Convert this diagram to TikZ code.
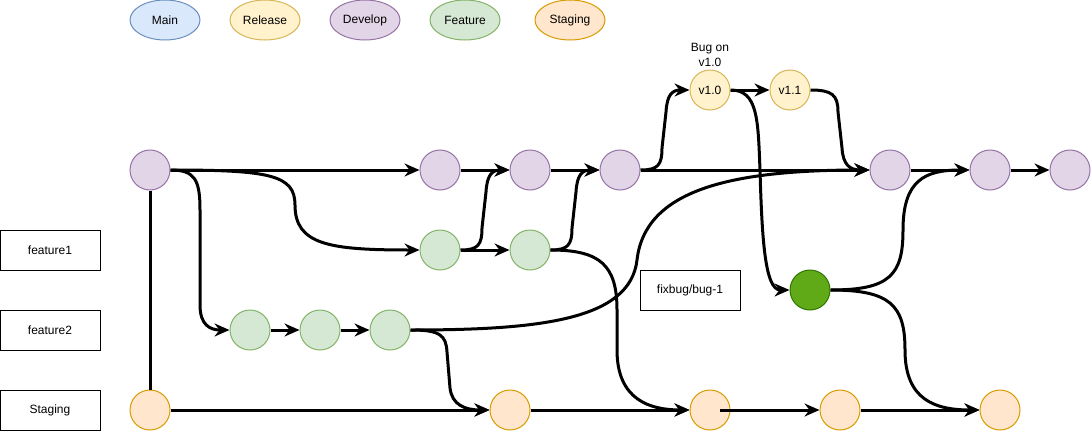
\documentclass[tikz,border=0pt]{standalone}
\usepackage{fontspec}
\setmainfont{Liberation Sans}
\usetikzlibrary{shapes.geometric,arrows.meta}
\definecolor{mainF}{HTML}{DAE8FC}\definecolor{mainS}{HTML}{6C8EBF}
\definecolor{relF}{HTML}{FFF2CC}\definecolor{relS}{HTML}{D6B656}
\definecolor{devF}{HTML}{E1D5E7}\definecolor{devS}{HTML}{9673A6}
\definecolor{featF}{HTML}{D5E8D4}\definecolor{featS}{HTML}{82B366}
\definecolor{stagF}{HTML}{FFE6CC}\definecolor{stagS}{HTML}{D79B00}
\definecolor{fixF}{HTML}{60A917}\definecolor{fixS}{HTML}{2D7600}
\begin{document}
\begin{tikzpicture}[x=1pt,y=-1pt,
  every node/.style={font=\fontsize{12}{14.5}\selectfont},
  legend/.style={ellipse,draw,line width=1pt,minimum width=70pt,minimum height=40pt,inner sep=0pt},
  commit/.style={circle,draw,line width=1pt,minimum size=40pt,inner sep=0pt},
  dev/.style={commit,fill=devF,draw=devS},
  rel/.style={commit,fill=relF,draw=relS},
  feat/.style={commit,fill=featF,draw=featS},
  stag/.style={commit,fill=stagF,draw=stagS},
  fixc/.style={commit,fill=fixF,draw=fixS},
  labelbox/.style={draw,line width=1pt,minimum width=100pt,minimum height=40pt,inner sep=0pt},
  conn/.style={line width=3pt,-{Stealth[length=15pt,width=13pt,inset=5pt]}},
  plainconn/.style={line width=3pt}
]
\useasboundingbox (0,0) rectangle (1091,431);
% legend
\node[legend,fill=mainF,draw=mainS] (lmain) at (165,20) {Main};
\node[legend,fill=relF,draw=relS] (lrel) at (265,20) {Release};
\node[legend,fill=devF,draw=devS] (ldev) at (365,20) {Develop};
\node[legend,fill=featF,draw=featS] (lfeat) at (465,20) {Feature};
\node[legend,fill=stagF,draw=stagS] (lstag) at (570,20) {Staging};
% label boxes
\node[labelbox] (bf1) at (50,250) {feature1};
\node[labelbox] (bf2) at (50,330) {feature2};
\node[labelbox] (bstag) at (50,410) {Staging};
\node[labelbox] (bfix) at (690,290) {fixbug/bug-1};
% develop
\node[dev] (d1) at (150,170) {};
\node[dev] (d2) at (440,170) {};
\node[dev] (d3) at (530,170) {};
\node[dev] (d4) at (620,170) {};
\node[dev] (d6) at (890,170) {};
\node[dev] (d7) at (990,170) {};
\node[dev] (d8) at (1070,170) {};
% release
\node[rel] (r1) at (710,90) {v1.0};
\node[rel] (r2) at (790,90) {v1.1};
\node[align=center,inner sep=0pt] (bug) at (710,55) {Bug on\\v1.0};
% features
\node[feat] (fa1) at (440,250) {};
\node[feat] (fa2) at (530,250) {};
\node[feat] (fb1) at (250,330) {};
\node[feat] (fb2) at (320,330) {};
\node[feat] (fb3) at (390,330) {};
\node[fixc] (fix) at (810,290) {};
% staging
\node[stag] (s1) at (150,410) {};
\node[stag] (s2) at (510,410) {};
\node[stag] (s3) at (710,410) {};
\node[stag] (s4) at (840,410) {};
\node[stag] (s5) at (1000,410) {};
\coordinate (s3in) at (720,410);
% connectors
\draw[plainconn] (d1) -- (s1);
\draw[conn] (d1) -- (d2);
\draw[conn] (d1.east) .. controls (270,170) and (295,175) .. (295,205) .. controls (295,245) and (330,250) .. (fa1.west);
\draw[conn] (d1.east) .. controls (195,170) and (200,180) .. (200,210) -- (200,305) .. controls (200,325) and (210,330) .. (fb1.west);
\draw[conn] (fb1) -- (fb2);
\draw[conn] (fb2) -- (fb3);
\draw[conn] (fb3.east) .. controls (440,330) and (446,335) .. (447,352) -- (450,388) .. controls (452,405) and (465,410) .. (s2.west);
\draw[conn] (fb3.east) .. controls (540,330) and (630,320) .. (637,260) .. controls (645,190) and (730,170) .. (d6.west);
\draw[conn] (d2) -- (d3);
\draw[conn] (fa1.east) .. controls (478,250) and (482,245) .. (482,228) -- (486,192) .. controls (487,175) and (492,170) .. (d3.west);
\draw[conn] (fa1) -- (fa2);
\draw[conn] (d3) -- (d4);
\draw[conn] (fa2.east) .. controls (568,250) and (572,245) .. (572,228) -- (576,192) .. controls (577,175) and (582,170) .. (d4.west);
\draw[conn] (fa2.east) .. controls (600,250) and (617,265) .. (617,310) -- (617,350) .. controls (617,400) and (650,410) .. (s3.west);
\draw[conn] (d4.east) .. controls (658,170) and (662,165) .. (662,148) -- (666,112) .. controls (667,95) and (672,90) .. (r1.west);
\draw[conn] (d4) -- (d6);
\draw[conn] (r1) -- (r2);
\draw[conn] (r1.east) .. controls (758,90) and (758,120) .. (760,170) .. controls (762,240) and (765,290) .. (fix.west);
\draw[conn] (r2.east) .. controls (832,90) and (838,95) .. (838,112) -- (842,148) .. controls (843,165) and (850,170) .. (d6.west);
\draw[conn] (d6) -- (d7);
\draw[conn] (d7) -- (d8);
\draw[conn] (fix.east) .. controls (890,290) and (903,275) .. (903,230) .. controls (903,180) and (925,170) .. (d7.west);
\draw[conn] (fix.east) .. controls (890,290) and (905,305) .. (905,350) .. controls (905,400) and (935,410) .. (s5.west);
\draw[conn] (s1) -- (s2);
\draw[conn] (s2) -- (s3);
\draw[conn] (s3in) -- (s4);
\draw[conn] (s4) -- (s5);
\end{tikzpicture}
\end{document}
